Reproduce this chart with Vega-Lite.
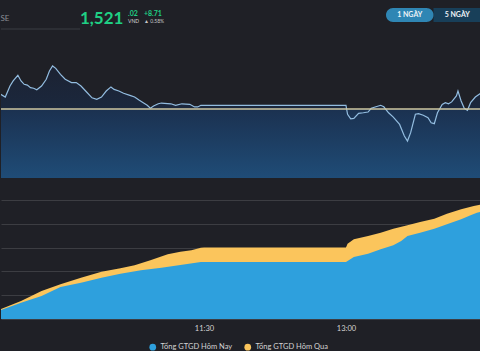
{
  "$schema": "https://vega.github.io/schema/vega-lite/v6.json",
  "background": "#1f2026",
  "padding": {"top": 8, "left": 0, "right": 0, "bottom": 0},
  "config": {
    "view": {"stroke": null},
    "font": "Lato",
    "title": {"anchor": "start", "font": "Lato", "subtitleFont": "Lato"},
    "legend": {"labelFont": "Lato"},
    "axis": {"labelFont": "Lato"}
  },
  "datasets": {
    "price": [
      {"t": "2024-01-02T09:21", "p": 1520.2, "ref": 1512.31}, {"t": "2024-01-02T09:24", "p": 1518.7, "ref": 1512.31}, {"t": "2024-01-02T09:27", "p": 1524.6, "ref": 1512.31}, {"t": "2024-01-02T09:29", "p": 1527.3, "ref": 1512.31},
      {"t": "2024-01-02T09:32", "p": 1530.3, "ref": 1512.31}, {"t": "2024-01-02T09:34", "p": 1527.3, "ref": 1512.31}, {"t": "2024-01-02T09:36", "p": 1525.5, "ref": 1512.31}, {"t": "2024-01-02T09:38", "p": 1525.1, "ref": 1512.31},
      {"t": "2024-01-02T09:40", "p": 1523.7, "ref": 1512.31}, {"t": "2024-01-02T09:42", "p": 1523.4, "ref": 1512.31}, {"t": "2024-01-02T09:44", "p": 1522.6, "ref": 1512.31}, {"t": "2024-01-02T09:47", "p": 1524.6, "ref": 1512.31},
      {"t": "2024-01-02T09:50", "p": 1528.2, "ref": 1512.31}, {"t": "2024-01-02T09:52", "p": 1532.6, "ref": 1512.31}, {"t": "2024-01-02T09:54", "p": 1535.3, "ref": 1512.31}, {"t": "2024-01-02T09:56", "p": 1534.0, "ref": 1512.31},
      {"t": "2024-01-02T09:59", "p": 1530.8, "ref": 1512.31}, {"t": "2024-01-02T10:02", "p": 1528.2, "ref": 1512.31}, {"t": "2024-01-02T10:06", "p": 1526.4, "ref": 1512.31}, {"t": "2024-01-02T10:09", "p": 1526.4, "ref": 1512.31},
      {"t": "2024-01-02T10:12", "p": 1524.6, "ref": 1512.31}, {"t": "2024-01-02T10:16", "p": 1521.0, "ref": 1512.31}, {"t": "2024-01-02T10:19", "p": 1518.3, "ref": 1512.31}, {"t": "2024-01-02T10:22", "p": 1517.5, "ref": 1512.31},
      {"t": "2024-01-02T10:25", "p": 1518.7, "ref": 1512.31}, {"t": "2024-01-02T10:28", "p": 1521.9, "ref": 1512.31}, {"t": "2024-01-02T10:31", "p": 1524.1, "ref": 1512.31}, {"t": "2024-01-02T10:33", "p": 1522.8, "ref": 1512.31},
      {"t": "2024-01-02T10:36", "p": 1521.9, "ref": 1512.31}, {"t": "2024-01-02T10:39", "p": 1520.7, "ref": 1512.31}, {"t": "2024-01-02T10:43", "p": 1519.6, "ref": 1512.31}, {"t": "2024-01-02T10:46", "p": 1518.7, "ref": 1512.31},
      {"t": "2024-01-02T10:49", "p": 1517.0, "ref": 1512.31}, {"t": "2024-01-02T10:52", "p": 1515.4, "ref": 1512.31}, {"t": "2024-01-02T10:54", "p": 1514.3, "ref": 1512.31}, {"t": "2024-01-02T10:56", "p": 1512.7, "ref": 1512.31},
      {"t": "2024-01-02T10:58", "p": 1513.9, "ref": 1512.31}, {"t": "2024-01-02T11:01", "p": 1515.1, "ref": 1512.31}, {"t": "2024-01-02T11:03", "p": 1515.5, "ref": 1512.31}, {"t": "2024-01-02T11:09", "p": 1515.1, "ref": 1512.31},
      {"t": "2024-01-02T11:12", "p": 1514.3, "ref": 1512.31}, {"t": "2024-01-02T11:16", "p": 1515.1, "ref": 1512.31}, {"t": "2024-01-02T11:21", "p": 1514.8, "ref": 1512.31}, {"t": "2024-01-02T11:24", "p": 1513.4, "ref": 1512.31},
      {"t": "2024-01-02T11:26", "p": 1513.4, "ref": 1512.31}, {"t": "2024-01-02T11:28", "p": 1514.3, "ref": 1512.31}, {"t": "2024-01-02T11:30", "p": 1514.3, "ref": 1512.31}, {"t": "2024-01-02T13:00", "p": 1514.3, "ref": 1512.31},
      {"t": "2024-01-02T13:01", "p": 1509.5, "ref": 1512.31}, {"t": "2024-01-02T13:03", "p": 1507.1, "ref": 1512.31}, {"t": "2024-01-02T13:05", "p": 1507.3, "ref": 1512.31}, {"t": "2024-01-02T13:08", "p": 1510.0, "ref": 1512.31},
      {"t": "2024-01-02T13:11", "p": 1510.3, "ref": 1512.31}, {"t": "2024-01-02T13:14", "p": 1510.7, "ref": 1512.31}, {"t": "2024-01-02T13:16", "p": 1512.7, "ref": 1512.31}, {"t": "2024-01-02T13:19", "p": 1513.5, "ref": 1512.31},
      {"t": "2024-01-02T13:22", "p": 1514.3, "ref": 1512.31}, {"t": "2024-01-02T13:24", "p": 1513.5, "ref": 1512.31}, {"t": "2024-01-02T13:27", "p": 1510.3, "ref": 1512.31}, {"t": "2024-01-02T13:30", "p": 1508.0, "ref": 1512.31},
      {"t": "2024-01-02T13:34", "p": 1504.1, "ref": 1512.31}, {"t": "2024-01-02T13:37", "p": 1497.9, "ref": 1512.31}, {"t": "2024-01-02T13:39", "p": 1495.2, "ref": 1512.31}, {"t": "2024-01-02T13:41", "p": 1499.7, "ref": 1512.31},
      {"t": "2024-01-02T13:44", "p": 1509.5, "ref": 1512.31}, {"t": "2024-01-02T13:46", "p": 1509.8, "ref": 1512.31}, {"t": "2024-01-02T13:49", "p": 1509.0, "ref": 1512.31}, {"t": "2024-01-02T13:52", "p": 1507.7, "ref": 1512.31},
      {"t": "2024-01-02T13:54", "p": 1505.0, "ref": 1512.31}, {"t": "2024-01-02T13:56", "p": 1504.5, "ref": 1512.31}, {"t": "2024-01-02T13:58", "p": 1510.3, "ref": 1512.31}, {"t": "2024-01-02T14:01", "p": 1514.8, "ref": 1512.31},
      {"t": "2024-01-02T14:03", "p": 1515.7, "ref": 1512.31}, {"t": "2024-01-02T14:05", "p": 1515.1, "ref": 1512.31}, {"t": "2024-01-02T14:07", "p": 1516.1, "ref": 1512.31}, {"t": "2024-01-02T14:10", "p": 1519.3, "ref": 1512.31},
      {"t": "2024-01-02T14:11", "p": 1521.9, "ref": 1512.31}, {"t": "2024-01-02T14:13", "p": 1516.6, "ref": 1512.31}, {"t": "2024-01-02T14:15", "p": 1512.7, "ref": 1512.31}, {"t": "2024-01-02T14:17", "p": 1511.6, "ref": 1512.31},
      {"t": "2024-01-02T14:19", "p": 1515.7, "ref": 1512.31}, {"t": "2024-01-02T14:22", "p": 1518.7, "ref": 1512.31}, {"t": "2024-01-02T14:26", "p": 1521.0, "ref": 1512.31}
    ],
    "volume": [
      {"t": "2024-01-02T09:21", "vol": 7}, {"t": "2024-01-02T09:25", "vol": 7}, {"t": "2024-01-02T09:28", "vol": 8}, {"t": "2024-01-02T09:29", "vol": 13},
      {"t": "2024-01-02T09:30", "vol": 8}, {"t": "2024-01-02T09:32", "vol": 5.5}, {"t": "2024-01-02T09:37", "vol": 5}, {"t": "2024-01-02T09:40", "vol": 5},
      {"t": "2024-01-02T09:43", "vol": 6.5}, {"t": "2024-01-02T09:47", "vol": 8}, {"t": "2024-01-02T09:50", "vol": 9}, {"t": "2024-01-02T09:53", "vol": 9.5},
      {"t": "2024-01-02T09:54", "vol": 12}, {"t": "2024-01-02T09:56", "vol": 9}, {"t": "2024-01-02T09:59", "vol": 5}, {"t": "2024-01-02T10:06", "vol": 4.5},
      {"t": "2024-01-02T10:12", "vol": 4}, {"t": "2024-01-02T10:18", "vol": 4.5}, {"t": "2024-01-02T10:25", "vol": 5}, {"t": "2024-01-02T10:28", "vol": 7.5},
      {"t": "2024-01-02T10:31", "vol": 5}, {"t": "2024-01-02T10:37", "vol": 3.5}, {"t": "2024-01-02T10:50", "vol": 3.5}, {"t": "2024-01-02T11:03", "vol": 3.5},
      {"t": "2024-01-02T11:15", "vol": 3.5}, {"t": "2024-01-02T11:28", "vol": 3}, {"t": "2024-01-02T11:29", "vol": 3}, {"t": "2024-01-02T11:30", "vol": 0},
      {"t": "2024-01-02T13:00", "vol": 0}, {"t": "2024-01-02T13:01", "vol": 14}, {"t": "2024-01-02T13:03", "vol": 9}, {"t": "2024-01-02T13:06", "vol": 7},
      {"t": "2024-01-02T13:13", "vol": 5}, {"t": "2024-01-02T13:22", "vol": 5}, {"t": "2024-01-02T13:28", "vol": 6}, {"t": "2024-01-02T13:35", "vol": 9},
      {"t": "2024-01-02T13:37", "vol": 14}, {"t": "2024-01-02T13:40", "vol": 8}, {"t": "2024-01-02T13:44", "vol": 5}, {"t": "2024-01-02T13:54", "vol": 4},
      {"t": "2024-01-02T14:06", "vol": 5}, {"t": "2024-01-02T14:15", "vol": 8.7}, {"t": "2024-01-02T14:19", "vol": 4}, {"t": "2024-01-02T14:26", "vol": 5}
    ],
    "gtgd": [
      {"t": "2024-01-02T09:21", "k": "qua", "s": "Tổng GTGD Hôm Qua", "v": 2038},
      {"t": "2024-01-02T09:34", "k": "qua", "s": "Tổng GTGD Hôm Qua", "v": 3782},
      {"t": "2024-01-02T09:47", "k": "qua", "s": "Tổng GTGD Hôm Qua", "v": 5883},
      {"t": "2024-01-02T09:59", "k": "qua", "s": "Tổng GTGD Hôm Qua", "v": 7290},
      {"t": "2024-01-02T10:12", "k": "qua", "s": "Tổng GTGD Hôm Qua", "v": 8677},
      {"t": "2024-01-02T10:25", "k": "qua", "s": "Tổng GTGD Hôm Qua", "v": 9938},
      {"t": "2024-01-02T10:37", "k": "qua", "s": "Tổng GTGD Hôm Qua", "v": 10652},
      {"t": "2024-01-02T10:46", "k": "qua", "s": "Tổng GTGD Hôm Qua", "v": 11282},
      {"t": "2024-01-02T10:56", "k": "qua", "s": "Tổng GTGD Hôm Qua", "v": 12333},
      {"t": "2024-01-02T11:07", "k": "qua", "s": "Tổng GTGD Hôm Qua", "v": 13593},
      {"t": "2024-01-02T11:15", "k": "qua", "s": "Tổng GTGD Hôm Qua", "v": 14140},
      {"t": "2024-01-02T11:22", "k": "qua", "s": "Tổng GTGD Hôm Qua", "v": 14434},
      {"t": "2024-01-02T11:28", "k": "qua", "s": "Tổng GTGD Hôm Qua", "v": 14980},
      {"t": "2024-01-02T11:30", "k": "qua", "s": "Tổng GTGD Hôm Qua", "v": 15000},
      {"t": "2024-01-02T13:00", "k": "qua", "s": "Tổng GTGD Hôm Qua", "v": 15000},
      {"t": "2024-01-02T13:01", "k": "qua", "s": "Tổng GTGD Hôm Qua", "v": 15820},
      {"t": "2024-01-02T13:05", "k": "qua", "s": "Tổng GTGD Hôm Qua", "v": 16745},
      {"t": "2024-01-02T13:14", "k": "qua", "s": "Tổng GTGD Hôm Qua", "v": 17438},
      {"t": "2024-01-02T13:22", "k": "qua", "s": "Tổng GTGD Hôm Qua", "v": 18132},
      {"t": "2024-01-02T13:30", "k": "qua", "s": "Tổng GTGD Hôm Qua", "v": 18972},
      {"t": "2024-01-02T13:39", "k": "qua", "s": "Tổng GTGD Hôm Qua", "v": 19687},
      {"t": "2024-01-02T13:47", "k": "qua", "s": "Tổng GTGD Hôm Qua", "v": 20380},
      {"t": "2024-01-02T13:56", "k": "qua", "s": "Tổng GTGD Hôm Qua", "v": 21073},
      {"t": "2024-01-02T14:04", "k": "qua", "s": "Tổng GTGD Hôm Qua", "v": 22124},
      {"t": "2024-01-02T14:13", "k": "qua", "s": "Tổng GTGD Hôm Qua", "v": 23048},
      {"t": "2024-01-02T14:21", "k": "qua", "s": "Tổng GTGD Hôm Qua", "v": 23741},
      {"t": "2024-01-02T14:26", "k": "qua", "s": "Tổng GTGD Hôm Qua", "v": 24099},
      {"t": "2024-01-02T09:21", "k": "nay", "s": "Tổng GTGD Hôm Nay", "v": 1828},
      {"t": "2024-01-02T09:34", "k": "nay", "s": "Tổng GTGD Hôm Nay", "v": 3425},
      {"t": "2024-01-02T09:47", "k": "nay", "s": "Tổng GTGD Hôm Nay", "v": 4832},
      {"t": "2024-01-02T09:59", "k": "nay", "s": "Tổng GTGD Hôm Nay", "v": 6723},
      {"t": "2024-01-02T10:12", "k": "nay", "s": "Tổng GTGD Hôm Nay", "v": 7627},
      {"t": "2024-01-02T10:25", "k": "nay", "s": "Tổng GTGD Hôm Nay", "v": 8677},
      {"t": "2024-01-02T10:37", "k": "nay", "s": "Tổng GTGD Hôm Nay", "v": 9518},
      {"t": "2024-01-02T10:50", "k": "nay", "s": "Tổng GTGD Hôm Nay", "v": 10232},
      {"t": "2024-01-02T11:03", "k": "nay", "s": "Tổng GTGD Hôm Nay", "v": 10778},
      {"t": "2024-01-02T11:15", "k": "nay", "s": "Tổng GTGD Hôm Nay", "v": 11345},
      {"t": "2024-01-02T11:28", "k": "nay", "s": "Tổng GTGD Hôm Nay", "v": 11976},
      {"t": "2024-01-02T11:30", "k": "nay", "s": "Tổng GTGD Hôm Nay", "v": 12000},
      {"t": "2024-01-02T13:00", "k": "nay", "s": "Tổng GTGD Hôm Nay", "v": 12000},
      {"t": "2024-01-02T13:01", "k": "nay", "s": "Tổng GTGD Hôm Nay", "v": 12200},
      {"t": "2024-01-02T13:05", "k": "nay", "s": "Tổng GTGD Hôm Nay", "v": 13026},
      {"t": "2024-01-02T13:14", "k": "nay", "s": "Tổng GTGD Hôm Nay", "v": 13719},
      {"t": "2024-01-02T13:22", "k": "nay", "s": "Tổng GTGD Hôm Nay", "v": 14644},
      {"t": "2024-01-02T13:30", "k": "nay", "s": "Tổng GTGD Hôm Nay", "v": 15485},
      {"t": "2024-01-02T13:35", "k": "nay", "s": "Tổng GTGD Hôm Nay", "v": 16388},
      {"t": "2024-01-02T13:39", "k": "nay", "s": "Tổng GTGD Hôm Nay", "v": 17438},
      {"t": "2024-01-02T13:47", "k": "nay", "s": "Tổng GTGD Hôm Nay", "v": 18132},
      {"t": "2024-01-02T13:56", "k": "nay", "s": "Tổng GTGD Hôm Nay", "v": 18972},
      {"t": "2024-01-02T14:04", "k": "nay", "s": "Tổng GTGD Hôm Nay", "v": 19897},
      {"t": "2024-01-02T14:13", "k": "nay", "s": "Tổng GTGD Hôm Nay", "v": 20947},
      {"t": "2024-01-02T14:19", "k": "nay", "s": "Tổng GTGD Hôm Nay", "v": 21788},
      {"t": "2024-01-02T14:23", "k": "nay", "s": "Tổng GTGD Hôm Nay", "v": 22334},
      {"t": "2024-01-02T14:26", "k": "nay", "s": "Tổng GTGD Hôm Nay", "v": 22544}
    ]
  },
  "spacing": 11,
  "vconcat": [
    {
      "hconcat": [
        {
          "width": 79, "height": 21,
          "title": {"text": "SE", "fontSize": 8, "fontWeight": "normal", "color": "#8a8d93", "offset": -15},
          "data": {"values": [{}]},
          "mark": {"type": "rule", "color": "#3a3c42", "strokeWidth": 1},
          "encoding": {"y": {"datum": 0, "type": "quantitative", "scale": {"domain": [0, 1]}, "axis": null}}
        },
        {
          "width": 48, "height": 14,
          "title": {"text": "1,521", "fontSize": 17, "fontWeight": "bold", "color": "#1fcf84", "offset": -20},
          "data": {"values": [{}]},
          "mark": {"type": "point", "opacity": 0},
          "encoding": {}
        },
        {
          "width": 16, "height": 14,
          "title": {"text": ".02", "subtitle": "VND", "fontSize": 7, "fontWeight": "bold", "color": "#1fcf84", "subtitleFontSize": 5, "subtitleColor": "#d8d8d8", "subtitlePadding": 2, "offset": -16},
          "data": {"values": [{}]},
          "mark": {"type": "point", "opacity": 0},
          "encoding": {}
        },
        {
          "width": 242, "height": 14,
          "title": {"text": "+8.71", "subtitle": "▲ 0.58%", "fontSize": 7, "fontWeight": "bold", "color": "#1fcf84", "subtitleFontSize": 5, "subtitleColor": "#c8c8c8", "subtitlePadding": 2, "offset": -16},
          "data": {"values": [{}]},
          "mark": {"type": "point", "opacity": 0},
          "encoding": {}
        },
        {
          "width": 95, "height": 14,
          "data": {"values": [{"b": "1 NGÀY", "on": 1}, {"b": "5 NGÀY", "on": 0}]},
          "encoding": {
            "x": {"field": "b", "type": "nominal", "axis": null, "scale": {"domain": ["1 NGÀY", "5 NGÀY"], "paddingInner": 0, "paddingOuter": 0}}
          },
          "layer": [
            {"transform": [{"filter": "datum.on == 0"}], "mark": {"type": "bar", "color": "#183f59"}},
            {"transform": [{"filter": "datum.on == 1"}], "mark": {"type": "bar", "color": "#2f86b4", "cornerRadius": 7}},
            {"mark": {"type": "text", "color": "#eef3f7", "fontSize": 7, "fontWeight": "bold", "font": "Lato"}, "encoding": {"text": {"field": "b"}}}
          ]
        }
      ],
      "spacing": 0,
      "bounds": "flush"
    },
    {
      "spacing": 22,
      "vconcat": [
        {
          "width": 480, "height": 137,
          "data": {"name": "price", "format": {"parse": {"t": "date"}}},
          "encoding": {
            "x": {"field": "t", "type": "temporal", "axis": null, "scale": {"domain": [{"year": 2024, "month": 1, "date": 2, "hours": 9, "minutes": 21, "seconds": 18}, {"year": 2024, "month": 1, "date": 2, "hours": 14, "minutes": 25, "seconds": 36}]}}
          },
          "layer": [
            {
              "mark": {"type": "area", "clip": true, "color": {"gradient": "linear", "x1": 0, "y1": 0, "x2": 0, "y2": 1, "stops": [{"offset": 0, "color": "#1c2232"}, {"offset": 1, "color": "#1a2c46"}]}},
              "encoding": {
                "y": {"field": "p", "type": "quantitative", "axis": null, "scale": {"domain": [1475.5, 1548.6], "nice": false, "zero": false}},
                "y2": {"field": "ref"}
              }
            },
            {
              "mark": {"type": "area", "clip": true, "color": {"gradient": "linear", "x1": 0, "y1": 0, "x2": 0, "y2": 1, "stops": [{"offset": 0, "color": "#1b3150"}, {"offset": 1, "color": "#1f4c77"}]}},
              "encoding": {
                "y": {"field": "ref", "type": "quantitative", "axis": null, "scale": {"domain": [1475.5, 1548.6], "nice": false, "zero": false}},
                "y2": {"datum": 1475.5}
              }
            },
            {
              "data": {"name": "volume", "format": {"parse": {"t": "date"}}},
              "mark": {"type": "area", "clip": true, "color": "#3a6794", "opacity": 0.9},
              "encoding": {
                "y": {"field": "vol", "type": "quantitative", "axis": null, "scale": {"domain": [0, 137], "nice": false}}
              }
            },
            {
              "mark": {"type": "line", "clip": true, "color": "#93bde0", "strokeWidth": 1.2},
              "encoding": {
                "y": {"field": "p", "type": "quantitative", "axis": null, "scale": {"domain": [1475.5, 1548.6], "nice": false, "zero": false}}
              }
            },
            {
              "transform": [{"aggregate": [{"op": "max", "field": "ref", "as": "ref"}]}],
              "mark": {"type": "rule", "color": "#cfc7a0", "strokeWidth": 1.5},
              "encoding": {
                "x": null,
                "y": {"field": "ref", "type": "quantitative", "axis": null, "scale": {"domain": [1475.5, 1548.6], "nice": false, "zero": false}}
              }
            }
          ],
          "resolve": {"scale": {"y": "independent"}}
        },
        {
          "width": 480, "height": 119,
          "data": {"name": "gtgd", "format": {"parse": {"t": "date"}}},
          "encoding": {
            "x": {"field": "t", "type": "temporal",
              "scale": {"domain": [{"year": 2024, "month": 1, "date": 2, "hours": 9, "minutes": 21, "seconds": 18}, {"year": 2024, "month": 1, "date": 2, "hours": 14, "minutes": 25, "seconds": 36}]},
              "axis": {"values": [{"year": 2024, "month": 1, "date": 2, "hours": 11, "minutes": 30}, {"year": 2024, "month": 1, "date": 2, "hours": 13, "minutes": 0}], "format": "%H:%M", "labelColor": "#d4d4d4", "labelFontSize": 7.5, "ticks": false, "domain": false, "grid": false, "labelPadding": 5, "title": null}},
            "y": {"field": "v", "type": "quantitative", "stack": null,
              "scale": {"domain": [0, 25000], "nice": false},
              "axis": {"values": [0, 5000, 10000, 15000, 20000, 25000], "labels": false, "ticks": false, "domain": false, "title": null, "grid": true, "gridColor": "#3c3d42", "gridWidth": 1}},
            "color": {"field": "s", "type": "nominal",
              "scale": {"domain": ["Tổng GTGD Hôm Nay", "Tổng GTGD Hôm Qua"], "range": ["#2ea0dd", "#fbc55c"]},
              "legend": {"orient": "none", "legendX": 148, "legendY": 335, "direction": "horizontal", "title": null, "symbolType": "circle", "symbolSize": 45, "symbolStrokeWidth": 0, "symbolOpacity": 1, "labelColor": "#d4d4d4", "labelFontSize": 7.5, "columnPadding": 11}}
          },
          "layer": [
            {"transform": [{"filter": "datum.k == 'qua'"}], "mark": {"type": "area", "opacity": 1, "clip": true}},
            {"transform": [{"filter": "datum.k == 'nay'"}], "mark": {"type": "area", "opacity": 1, "clip": true}}
          ]
        }
      ]
    }
  ]
}
